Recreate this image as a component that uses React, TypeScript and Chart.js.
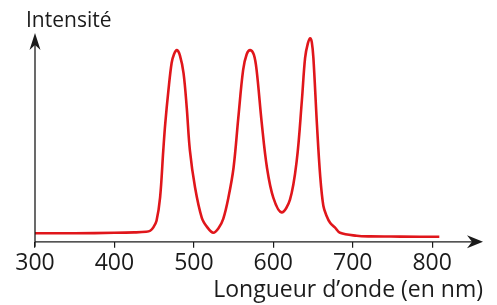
import React, { useEffect, useRef } from "react";
import { Chart, registerables } from "chart.js";

Chart.register(...registerables);

const wavelengths = [
  300, 350, 400, 425, 440, 445, 449, 453, 457.5, 461.5, 464, 468, 472, 475, 478.5, 482.5, 487,
  491, 495, 501.5, 510, 517, 524.5, 531, 537, 543.5, 550, 556, 562, 566.5, 571, 575.5, 579,
  585.5, 592, 600, 610.5, 621, 629.5, 636, 640, 643.5, 646.5, 648.5, 650.5, 655, 659, 663,
  667, 671.5, 677.5, 684, 705, 722, 760, 809,
];
const intensity = [
  4.1, 4.1, 4.3, 4.5, 4.8, 5.3, 6.9, 10.1, 21.3, 43.8, 56.7, 72.6, 85.6, 89.8, 91.8, 89.2,
  80.8, 64.4, 43.8, 26.0, 11.5, 6.9, 4.3, 6.5, 11.0, 21.2, 35.6, 59.6, 82.2, 89.8, 91.8, 89.6,
  82.2, 56.7, 35.6, 21.2, 14.1, 20.2, 38.9, 67.8, 88.0, 95.0, 97.5, 95.5, 88.0, 55.8, 31.7,
  17.3, 12.5, 9.1, 6.9, 4.3, 2.9, 2.6, 2.5, 2.4,
];
const xTicks = [300, 400, 500, 600, 700, 800];
const xTitle = "Longueur d\u2019onde (en nm)";
const yTitle = "Intensité";

const FONT = "'Open Sans', 'DejaVu Sans', sans-serif";
const INK = "#1b1b1b";

const axesPlugin = {
  id: "arrowAxes",
  afterDraw(chart: any) {
    const { ctx, chartArea } = chart;
    const { left, right, top, bottom } = chartArea;
    ctx.save();
    ctx.strokeStyle = INK;
    ctx.fillStyle = INK;
    ctx.lineWidth = 1.3;
    // y axis
    ctx.beginPath();
    ctx.moveTo(left, bottom + 5);
    ctx.lineTo(left, top + 8);
    ctx.stroke();
    ctx.beginPath();
    ctx.moveTo(left, top);
    ctx.lineTo(left - 5.5, top + 17);
    ctx.lineTo(left, top + 12);
    ctx.lineTo(left + 5.5, top + 17);
    ctx.closePath();
    ctx.fill();
    // x axis
    ctx.beginPath();
    ctx.moveTo(left, bottom);
    ctx.lineTo(right - 8, bottom);
    ctx.stroke();
    ctx.beginPath();
    ctx.moveTo(right, bottom);
    ctx.lineTo(right - 16, bottom - 6.5);
    ctx.lineTo(right - 11, bottom);
    ctx.lineTo(right - 16, bottom + 6.5);
    ctx.closePath();
    ctx.fill();
    // y title
    ctx.font = `21px ${FONT}`;
    ctx.textAlign = "left";
    ctx.textBaseline = "alphabetic";
    ctx.fillText(yTitle, 26, 27);
    ctx.restore();
  },
};

export default function App() {
  const ref = useRef<HTMLCanvasElement | null>(null);

  useEffect(() => {
    document.body.style.margin = "0";
    const canvas = ref.current;
    if (!canvas) return;
    const chart = new Chart(canvas, {
      type: "scatter",
      data: {
        datasets: [
          {
            data: wavelengths.map((x, i) => ({ x, y: intensity[i] })),
            showLine: true,
            borderColor: "#e0161b",
            borderWidth: 2.6,
            pointRadius: 0,
            tension: 0.35,
            fill: false,
          },
        ],
      },
      options: {
        animation: false,
        responsive: false,
        maintainAspectRatio: false,
        layout: { padding: { left: 35, right: 14, top: 33, bottom: 0 } },
        plugins: { legend: { display: false }, tooltip: { enabled: false } },
        scales: {
          x: {
            type: "linear",
            min: 300,
            max: 864,
            afterBuildTicks: (axis: any) => {
              axis.ticks = xTicks.map((v) => ({ value: v }));
            },
            grid: {
              display: true,
              drawOnChartArea: false,
              drawTicks: true,
              tickLength: 6,
              color: INK,
              lineWidth: 1.2,
            },
            border: { display: false },
            ticks: {
              color: INK,
              font: { family: FONT, size: 23 },
              padding: 2,
              maxRotation: 0,
              autoSkip: false,
            },
            title: {
              display: true,
              text: xTitle,
              align: "end",
              color: INK,
              font: { family: FONT, size: 23 },
              padding: { top: -3, bottom: 1 },
            },
          },
          y: {
            display: false,
            min: 0,
            max: 100,
          },
        },
      },
      plugins: [axesPlugin],
    } as any);
    return () => chart.destroy();
  }, []);

  return (
    <div style={{ position: "absolute", left: 0, top: 0, width: 497, height: 305 }}>
      <canvas ref={ref} width={497} height={305} style={{ width: 497, height: 305 }} />
    </div>
  );
}
